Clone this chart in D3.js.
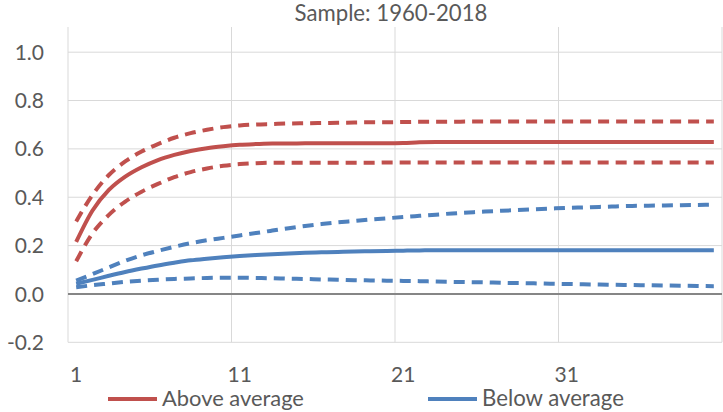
<!DOCTYPE html>
<html>
<head>
<meta charset="utf-8">
<script src="https://cdn.jsdelivr.net/npm/d3@7"></script>
<style>
  html, body { margin: 0; padding: 0; background: #fff; }
  svg { display: block; }
  text { font-family: Lato, "Open Sans", sans-serif; fill: #595959; }
</style>
</head>
<body>
<svg id="chart" width="723" height="412"></svg>
<script>
// ---- data ----
const title = "Sample: 1960-2018";
const periods = d3.range(1, 41);
const xTickLabels = [1, 11, 21, 31];
const yTicks = [-0.2, 0.0, 0.2, 0.4, 0.6, 0.8, 1.0];

const aboveMean = [0.215,0.345,0.430,0.485,0.524,0.554,0.575,0.591,0.603,0.611,0.617,0.620,0.622,0.622,0.623,0.623,0.623,0.623,0.623,0.623,0.624,0.627,0.628,0.628,0.628,0.628,0.628,0.628,0.628,0.628,0.628,0.628,0.628,0.628,0.628,0.628,0.628,0.628,0.628,0.628];
const aboveUpper = [0.300,0.410,0.492,0.548,0.589,0.620,0.646,0.665,0.679,0.690,0.697,0.701,0.703,0.705,0.706,0.707,0.708,0.709,0.710,0.710,0.711,0.712,0.712,0.712,0.713,0.713,0.713,0.713,0.713,0.713,0.713,0.713,0.713,0.713,0.713,0.713,0.713,0.713,0.713,0.713];
const aboveLower = [0.135,0.251,0.327,0.382,0.423,0.455,0.483,0.504,0.519,0.530,0.537,0.541,0.543,0.543,0.543,0.543,0.543,0.543,0.543,0.544,0.544,0.544,0.544,0.544,0.544,0.544,0.544,0.544,0.544,0.544,0.544,0.544,0.544,0.544,0.544,0.544,0.544,0.544,0.544,0.544];

const belowMean = [0.042,0.058,0.075,0.091,0.105,0.118,0.129,0.139,0.146,0.152,0.157,0.161,0.164,0.167,0.170,0.172,0.174,0.176,0.177,0.178,0.179,0.180,0.181,0.181,0.181,0.181,0.181,0.181,0.181,0.181,0.181,0.181,0.181,0.181,0.181,0.181,0.181,0.181,0.181,0.181];
const belowUpper = [0.055,0.082,0.110,0.137,0.160,0.178,0.195,0.210,0.222,0.232,0.242,0.252,0.262,0.272,0.281,0.289,0.296,0.302,0.308,0.313,0.318,0.323,0.328,0.333,0.337,0.341,0.344,0.347,0.350,0.353,0.356,0.358,0.360,0.362,0.364,0.365,0.366,0.367,0.368,0.369];
const belowLower = [0.028,0.036,0.043,0.050,0.055,0.059,0.062,0.064,0.066,0.067,0.067,0.066,0.065,0.063,0.062,0.060,0.059,0.057,0.056,0.055,0.054,0.053,0.051,0.050,0.049,0.048,0.046,0.045,0.044,0.042,0.041,0.040,0.039,0.038,0.037,0.036,0.035,0.034,0.033,0.032];

const legendNames = ["Above average", "Below average"];
const colors = ["#C0504D", "#4F81BD"];

// ---- layout ----
const svg = d3.select("#chart");
const plotL = 68, plotR = 722, plotT = 27, plotB = 342.3;

const x = d3.scaleBand().domain(periods).range([plotL, plotR]).padding(0);
const y = d3.scaleLinear().domain([-0.2, 1.1]).range([plotB, 28]);

// fit text width to a target by adjusting font size
function fitWidth(sel, target, base) {
  sel.each(function() {
    const w = this.getComputedTextLength();
    if (w > 0) d3.select(this).attr("font-size", base * target / w);
  });
}

// horizontal gridlines
svg.append("g").selectAll("line").data(yTicks.filter(v => v !== 0)).join("line")
  .attr("x1", plotL).attr("x2", plotR)
  .attr("y1", d => y(d)).attr("y2", d => y(d))
  .attr("stroke", "#D9D9D9").attr("stroke-width", 1);

// vertical gridlines (category boundaries every 10)
const vLines = xTickLabels.map(d => x(d)).concat([plotR]);
svg.append("g").selectAll("line").data(vLines).join("line")
  .attr("x1", d => d).attr("x2", d => d)
  .attr("y1", plotT).attr("y2", plotB)
  .attr("stroke", "#D9D9D9").attr("stroke-width", 1);

// zero axis line
svg.append("line")
  .attr("x1", plotL).attr("x2", plotR)
  .attr("y1", y(0)).attr("y2", y(0))
  .attr("stroke", "#868686").attr("stroke-width", 2);

// y tick labels
svg.append("g").selectAll("text").data(yTicks).join("text")
  .attr("x", 44).attr("y", d => y(d))
  .attr("dy", "0.36em")
  .attr("text-anchor", "end")
  .attr("font-size", 21)
  .text(d => d.toFixed(1));

// x tick labels
svg.append("g").selectAll("text").data(xTickLabels).join("text")
  .attr("x", d => x(d) + x.bandwidth() / 2).attr("y", 382)
  .attr("text-anchor", "middle")
  .attr("font-size", 21)
  .text(d => d);

// title
const titleText = svg.append("text")
  .attr("x", 391).attr("y", 21)
  .attr("text-anchor", "middle")
  .attr("font-size", 20)
  .text(title);
fitWidth(titleText, 193, 20);

// lines
const line = d3.line()
  .x((d, i) => x(periods[i]) + x.bandwidth() / 2)
  .y(d => y(d))
  .curve(d3.curveMonotoneX);

const series = [
  { values: aboveUpper, color: colors[0], dash: "11,7" },
  { values: aboveLower, color: colors[0], dash: "11,7" },
  { values: aboveMean, color: colors[0], dash: null },
  { values: belowUpper, color: colors[1], dash: "11,7" },
  { values: belowLower, color: colors[1], dash: "11,7" },
  { values: belowMean, color: colors[1], dash: null }
];

svg.append("g").selectAll("path").data(series).join("path")
  .attr("d", d => line(d.values))
  .attr("fill", "none")
  .attr("stroke", d => d.color)
  .attr("stroke-width", 4)
  .attr("stroke-dasharray", d => d.dash)
  .attr("stroke-linejoin", "round");

// legend
const legendX = [108, 428];
const lg = svg.append("g").selectAll("g").data(legendNames).join("g");
lg.append("line")
  .attr("x1", (d, i) => legendX[i]).attr("x2", (d, i) => legendX[i] + 49)
  .attr("y1", 399).attr("y2", 399)
  .attr("stroke", (d, i) => colors[i]).attr("stroke-width", 4);
const legText = lg.append("text")
  .attr("x", (d, i) => legendX[i] + 54).attr("y", 406)
  .attr("font-size", 20)
  .text(d => d);
fitWidth(legText, 142, 20);
</script>
</body>
</html>
